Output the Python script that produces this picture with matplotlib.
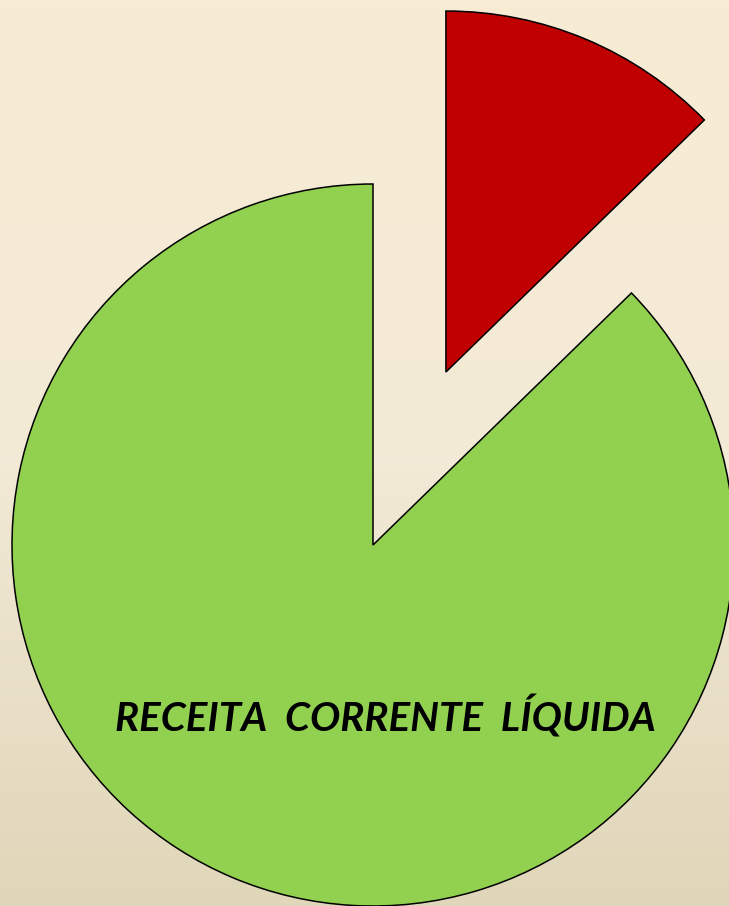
import numpy as np
import matplotlib
matplotlib.use("Agg")
import matplotlib.pyplot as plt
from matplotlib.colors import LinearSegmentedColormap

# Data
labels = ["RECEITA  CORRENTE  LÍQUIDA", ""]
values = [87.3, 12.7]
colors = ["#92d050", "#c00000"]
explode = [0.0, 0.52]

W, H = 729, 906
fig = plt.figure(figsize=(W / 100, H / 100), dpi=100)

# background gradient
bg = fig.add_axes([0, 0, 1, 1])
bg.set_axis_off()
cmap = LinearSegmentedColormap.from_list("bg", ["#f8ecd4", "#f3ead7", "#e0d6b9"])
grad = np.linspace(0, 1, 256).reshape(-1, 1)
bg.imshow(grad, cmap=cmap, aspect="auto", extent=[0, 1, 0, 1], origin="upper")

ax = fig.add_axes([0, 0, 1, 1])
ax.set_axis_off()
ax.patch.set_alpha(0)

r = 361.0
cx, cy = 373.0, 545.0
wedges, _ = ax.pie(values, colors=colors, explode=explode, startangle=90,
                   counterclock=True, radius=1.0, center=(0, 0),
                   wedgeprops=dict(edgecolor="black", linewidth=1.1))
ax.set_xlim(-cx / r, (W - cx) / r)
ax.set_ylim(-(H - cy) / r, cy / r)
ax.set_aspect("auto")

ax.text((385 - cx) / r, -(717 - cy) / r, labels[0], ha="center", va="center",
        fontsize=29, fontweight="bold", fontstyle="italic", family="Lato",
        color="black")

fig.savefig("out.png", dpi=100)
